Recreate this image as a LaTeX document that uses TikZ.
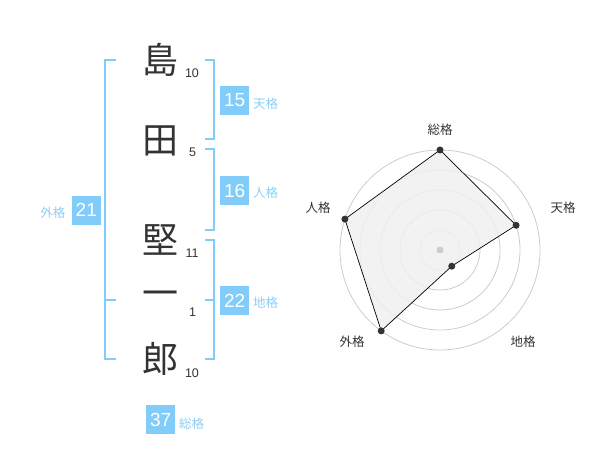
\documentclass[tikz,border=0pt]{standalone}
\usepackage{fontspec}
\usetikzlibrary{calc}
\newfontfamily\cjk{Noto Sans CJK JP}
\newfontfamily\numf{Liberation Sans}
\definecolor{boxblue}{HTML}{82CCFA}
\definecolor{lblblue}{HTML}{8CCFF5}
\definecolor{ink}{HTML}{333333}
\definecolor{ringgray}{HTML}{CCCCCC}
\definecolor{polyfill}{HTML}{F0F0F0}
\begin{document}
\begin{tikzpicture}[x=1pt,y=-1pt,
  namechar/.style={inner sep=0pt,text=ink,font=\cjk\fontsize{36}{36}\selectfont},
  strokes/.style={inner sep=0pt,text=ink,font=\numf\fontsize{12.5}{12.5}\selectfont},
  scorebox/.style={fill=boxblue,text=white,minimum width=29pt,minimum height=29pt,inner sep=0pt,font=\numf\fontsize{19}{19}\selectfont},
  scorelbl/.style={inner sep=0pt,text=lblblue,font=\cjk\fontsize{12.5}{12.5}\selectfont},
  bracket/.style={draw=boxblue,line width=2pt},
  ring/.style={draw=ringgray,line width=0.8pt},
  radlbl/.style={inner sep=0pt,text=ink,font=\cjk\fontsize{12.5}{12.5}\selectfont},
  vdot/.style={circle,fill=ink,inner sep=0pt,minimum size=7pt}]
\useasboundingbox (0,0) rectangle (600,470);
% name characters
\node[namechar] (c1) at (160.5,60) {島};
\node[namechar] (c2) at (160.5,141) {田};
\node[namechar] (c3) at (160.5,240) {堅};
\node[namechar] (c4) at (160.5,299) {一};
\node[namechar] (c5) at (160.5,359) {郎};
% stroke counts
\node[strokes] (n1) at (192,73) {10};
\node[strokes] (n2) at (192.7,152.7) {5};
\node[strokes] (n3) at (192,253) {11};
\node[strokes] (n4) at (192.7,312.7) {1};
\node[strokes] (n5) at (192,372.7) {10};
% brackets
\draw[bracket] (116,60) -- (105,60) -- (105,359) -- (116,359);
\draw[bracket] (105,300) -- (116,300);
\draw[bracket] (205,60) -- (214,60) -- (214,139) -- (205,139);
\draw[bracket] (205,149) -- (214,149) -- (214,230) -- (205,230);
\draw[bracket] (205,240) -- (214,240) -- (214,359) -- (205,359);
\draw[bracket] (205,300) -- (214,300);
% score boxes
\node[scorebox] (b15) at (234.7,100.5) {15};
\node[scorelbl] (l15) at (265.7,104) {天格};
\node[scorebox] (b16) at (234.7,190.5) {16};
\node[scorelbl] (l16) at (265.7,193) {人格};
\node[scorebox] (b22) at (234.7,300.5) {22};
\node[scorelbl] (l22) at (265.7,303) {地格};
\node[scorebox] (b21) at (86.3,210.3) {21};
\node[scorelbl] (l21) at (52.8,213) {外格};
\node[scorebox] (b37) at (160.7,419.5) {37};
\node[scorelbl] (l37) at (191.7,423.3) {総格};
% radar
\coordinate (rc) at (440,250);
\foreach \r in {20,40,60,80,100} \draw[ring] (rc) circle (\r);
\coordinate (p1) at ($(rc)+(-90:100)$);
\coordinate (p2) at ($(rc)+(-18:80)$);
\coordinate (p3) at ($(rc)+(54:20)$);
\coordinate (p4) at ($(rc)+(126:100)$);
\coordinate (p5) at ($(rc)+(-162:100)$);
\draw[black,line width=0.7pt,fill=polyfill,fill opacity=0.85] (p1) -- (p2) -- (p3) -- (p4) -- (p5) -- cycle;
\node[circle,fill=ringgray,inner sep=0pt,minimum size=7pt] (ctr) at (rc) {};
\foreach \p in {p1,p2,p3,p4,p5} \node[vdot] at (\p) {};
\node[radlbl] (r1) at (440,130) {総格};
\node[radlbl] (r2) at (563,208) {天格};
\node[radlbl] (r3) at (523,342) {地格};
\node[radlbl] (r4) at (352,342) {外格};
\node[radlbl] (r5) at (318,208) {人格};
\end{tikzpicture}
\end{document}
